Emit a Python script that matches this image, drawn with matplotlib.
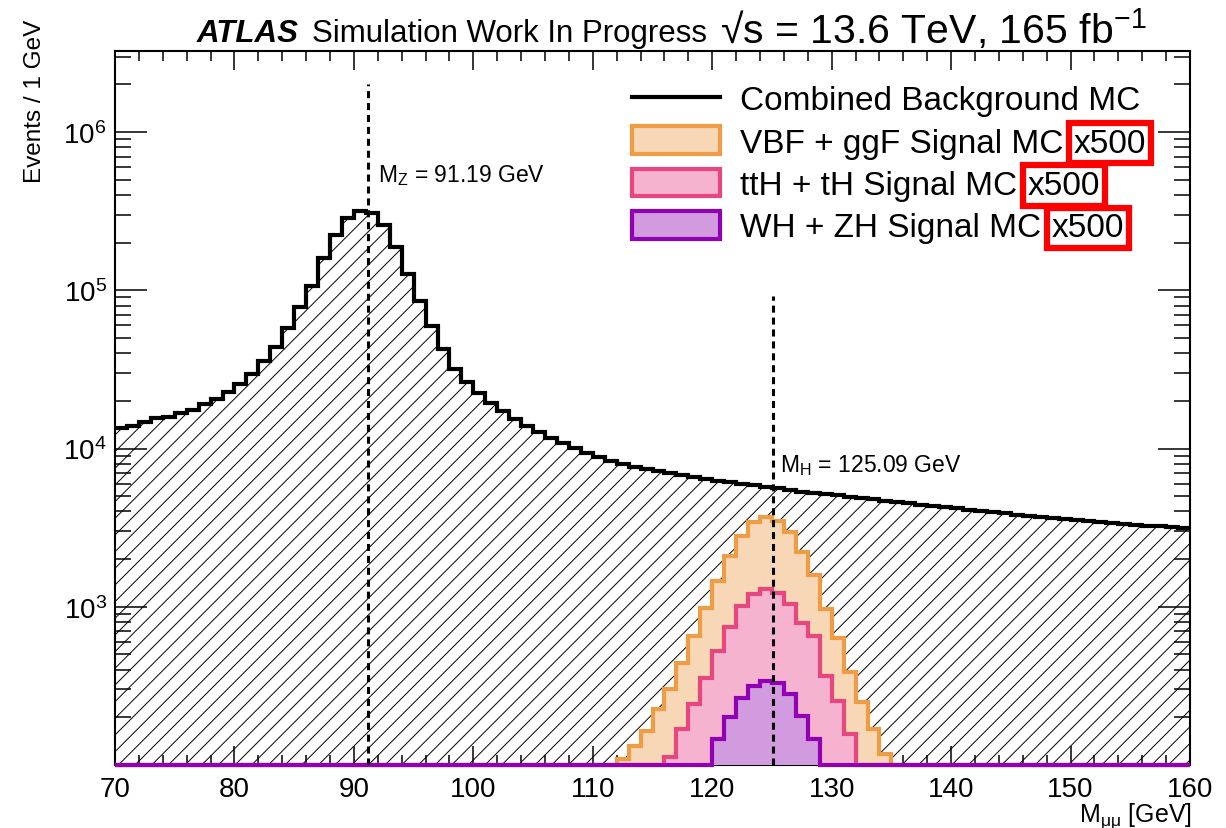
import numpy as np
import matplotlib
matplotlib.use("Agg")
import matplotlib.pyplot as plt
from matplotlib.lines import Line2D
from matplotlib.patches import Patch
from matplotlib.ticker import FixedLocator, LogLocator, NullFormatter

plt.rcParams['font.family'] = ['Liberation Sans', 'DejaVu Sans']
plt.rcParams['mathtext.fontset'] = 'custom'
plt.rcParams['mathtext.rm'] = 'Liberation Sans'
plt.rcParams['mathtext.it'] = 'Liberation Sans:italic'
plt.rcParams['mathtext.bf'] = 'Liberation Sans:bold'
plt.rcParams['hatch.linewidth'] = 0.7

# 1 GeV bins from 70 to 160
m_lo, m_hi = 70, 160
bkg = [13400, 13900, 14600, 15500, 15850, 16670, 17550, 19070, 20510, 22600,
       25520, 29510, 35800, 43500, 57400, 78500, 106700, 161000, 222800, 284300,
       317600, 306900, 257700, 186400, 126500, 85700, 59600, 42460, 31770, 26370,
       22390, 19360, 17220, 15340, 13840, 12700, 11640, 10820, 10070, 9355,
       8830, 8320, 7970, 7630, 7410, 7200, 6990, 6790, 6600, 6410,
       6270, 6140, 6000, 5870, 5745, 5620, 5500, 5345, 5245, 5145,
       5050, 4955, 4860, 4770, 4680, 4590, 4505, 4420, 4340, 4260,
       4180, 4100, 4025, 3950, 3885, 3822, 3767, 3712, 3658, 3605,
       3553, 3502, 3452, 3402, 3353, 3305, 3258, 3220, 3176, 3140]

# signals (x500), first bin lower edge given by *_start
vbf_start = 112
vbf = [109, 132, 165, 226, 302, 441, 650, 977, 1446, 2080, 2810, 3413,
       3670, 3494, 2951, 2206, 1585, 967, 631, 385, 249, 169, 117]
tth_start = 116
tth = [112, 169, 243, 357, 527, 741, 1015, 1200, 1293, 1230, 1040, 795,
       655, 366, 254, 157]
vh_start = 120
vh = [146, 200, 267, 316, 340, 332, 281, 204, 146]

m_z = 91.19
m_h = 125.09

ymin, ymax = 100, 3.25e6
edges = np.arange(m_lo, m_hi + 1)


def full_hist(start, vals):
    h = np.zeros(len(edges) - 1)
    h[start - m_lo:start - m_lo + len(vals)] = vals
    return np.clip(h, ymin, None)


W, H = 1226, 829
fig = plt.figure(figsize=(W / 100, H / 100), dpi=100)
ax = fig.add_axes([115 / W, 1 - 766 / H, 1075 / W, 714 / H])

ax.stairs(bkg, edges, baseline=ymin, fill=True, facecolor='none',
          edgecolor='black', hatch='//', linewidth=0)
ax.stairs(bkg, edges, baseline=None, color='black', linewidth=3)

sig_styles = [
    (vbf_start, vbf, '#F7D7B5', '#EE9C45'),
    (tth_start, tth, '#F6B3CF', '#E8467F'),
    (vh_start, vh, '#D29ADF', '#9200B4'),
]
for start, vals, fc, ec in sig_styles:
    ax.stairs(full_hist(start, vals), edges, baseline=ymin, fill=True,
              facecolor=fc, edgecolor=ec, linewidth=3, clip_on=False,
              zorder=3)

ax.plot([m_z, m_z], [ymin, 2.0e6], color='black', lw=2.2, dashes=(2.3, 1.6),
        zorder=4)
ax.plot([m_h, m_h], [ymin, 9.2e4], color='black', lw=2.2, dashes=(2.3, 1.6),
        zorder=4)
ax.text(92.0, 5.4e5, r'M$_{\mathrm{Z}}$ = 91.19 GeV', fontsize=16.5, va='center')
ax.text(125.7, 7960, r'M$_{\mathrm{H}}$ = 125.09 GeV', fontsize=16.5, va='center')

ax.set_xlim(m_lo, m_hi)
ax.set_yscale('log')
ax.set_ylim(ymin, ymax)

ax.set_xticks(np.arange(70, 161, 10))
ax.xaxis.set_minor_locator(FixedLocator(np.arange(70, 161, 2)))
ax.yaxis.set_major_locator(FixedLocator([1e3, 1e4, 1e5, 1e6]))
ax.yaxis.set_minor_locator(LogLocator(base=10, subs=np.arange(2, 10)))
ax.yaxis.set_minor_formatter(NullFormatter())
ax.tick_params(which='both', direction='in', top=True, right=True,
               labelsize=20, width=1.1)
ax.tick_params(axis='y', which='major', length=23, pad=6)
ax.tick_params(axis='y', which='minor', length=11.5)
ax.tick_params(axis='x', which='major', length=14, pad=8)
ax.tick_params(axis='x', which='minor', length=7)
for s in ax.spines.values():
    s.set_linewidth(1.5)

fig.text(35 / W, 1 - 20 / H, 'Events / 1 GeV', rotation=90,
         ha='center', va='top', fontsize=17.5)
fig.text(1192 / W, 1 - 822 / H, r'M$_{\mathrm{μμ}}$ [GeV]', ha='right',
         va='baseline', fontsize=18)

fig.text(197 / W, 1 - 42 / H, 'ATLAS', fontsize=22.5,
         fontweight='bold', fontstyle='italic', va='baseline')
fig.text(312 / W, 1 - 42 / H, 'Simulation Work In Progress',
         fontsize=22.5, va='baseline')
fig.text(720 / W, 1 - 44 / H, '√s = 13.6 TeV, 165 fb$^{-1}$',
         fontsize=29.5, va='baseline')

handles = [Line2D([], [], color='black', lw=3)]
for start, vals, fc, ec in sig_styles:
    handles.append(Patch(facecolor=fc, edgecolor=ec, linewidth=3))
labels = ['Combined Background MC', 'VBF + ggF Signal MC',
          'ttH + tH Signal MC', 'WH + ZH Signal MC']
leg = ax.legend(handles, labels, loc='upper left',
                bbox_to_anchor=(632 / W, 1 - 85 / H),
                bbox_transform=fig.transFigure, frameon=False,
                fontsize=24, handlelength=2.65, handleheight=0.9,
                handletextpad=0.6, labelspacing=0.3, borderpad=0,
                borderaxespad=0)

# the "x500" tags sit right after the legend labels, boxed in red
fig.canvas.draw()
for t in leg.get_texts()[1:]:
    bb = t.get_window_extent()
    fig.text((bb.x1 + 10) / W, bb.y0 / H, 'x500', ha='left', va='bottom',
             fontsize=24,
             bbox=dict(boxstyle='square,pad=0.14', facecolor='none',
                       edgecolor='#FF0000', linewidth=4.5))

fig.savefig('out.png', dpi=100)
